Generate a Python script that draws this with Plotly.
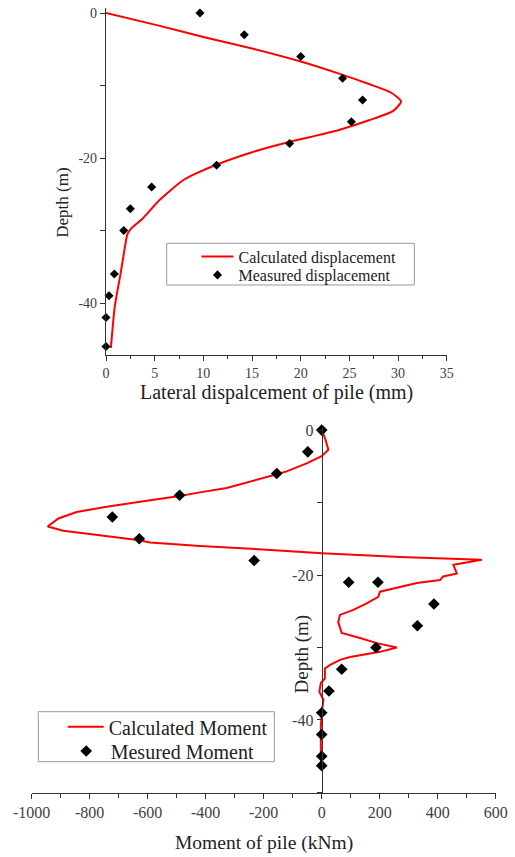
import plotly.graph_objects as go

W, H = 515, 857

def px(x):
    return x / W

def py(y):
    return 1 - y / H

# ---------------- Data: lateral displacement ----------------
disp_calc_x = [0, 5, 10, 15, 20, 24, 27, 29.3, 30.3, 29.5, 27, 24, 21, 18.5, 15, 11.4,
               8, 5.5, 3.8, 2.6, 2.2, 1.95, 1.5, 0.9, 0.5]
disp_calc_depth = [0, -1.6, -3.3, -4.9, -6.7, -8.4, -9.8, -11, -12.2, -13.5, -14.8, -16.1,
                   -17.1, -17.9, -19.2, -20.9, -23, -25.8, -28.3, -29.7, -30.5, -32.2,
                   -35.9, -40.5, -46.2]
disp_meas_x = [9.65, 14.2, 20.0, 24.3, 26.35, 25.2, 18.85, 11.36, 4.69, 2.5, 1.82, 0.86,
               0.31, 0.0, 0.0]
disp_meas_depth = [0, -3, -6, -9, -12, -15, -18, -21, -24, -27, -30, -36, -39, -42, -46]

# ---------------- Data: bending moment ----------------
mom_calc_x = [0, 11.5, 23, 0, -52, -121, -155, -236, -328, -420, -490, -603, -730, -845,
              -908, -945, -891, -765, -629, -592, -420, -190, 0, 270, 552, 454, 466, 419,
              408, 328, 270, 201, 195, 155, 109, 63, 57, 69, 132, 190, 259, 201, 98, 63,
              29, 11, 11, -3, -8, 6, 0, -3, -3, -2]
mom_calc_depth = [0, -1.15, -2.7, -3.6, -4.6, -5.7, -6.1, -7.0, -8.0, -8.6, -9.1, -9.75,
                  -10.5, -11.3, -12.2, -13.3, -13.9, -14.5, -15.2, -15.5, -16.0, -16.5,
                  -17.0, -17.5, -17.9, -18.6, -19.8, -20.2, -20.7, -21.1, -21.6, -22.3,
                  -23.0, -23.9, -24.8, -25.5, -26.5, -28.0, -28.7, -29.4, -30.0, -30.6,
                  -31.3, -31.7, -32.4, -32.9, -34.3, -34.9, -36.1, -37.2, -39.1, -40.9,
                  -43.7, -46.4]
mom_meas_x = [0, -48, -155, -490, -722, -629, -233, 93, 194, 387, 330, 187, 69, 25, 0, 0, 0, 0]
mom_meas_depth = [0, -3, -6, -9, -12, -15, -18, -21, -21, -24, -27, -30, -33, -36, -39, -42,
                  -45, -46.3]

disp_xticks = [0, 5, 10, 15, 20, 25, 30, 35]
depth_ticks = [0, -20, -40]
depth_ticklabels = ["0", "-20", "-40"]
mom_xticks = [-1000, -800, -600, -400, -200, 0, 200, 400, 600]
mom_xticklabels = ["-1000", "-800", "-600", "-400", "-200", "0", "200", "400", "600"]

SERIF = "Liberation Serif, Times New Roman, serif"
TEXTC = "#222222"
TICKC = "#404040"
LINEC = "#333333"

fig = go.Figure()

fig.add_trace(go.Scatter(
    x=disp_calc_x, y=disp_calc_depth, mode="lines", name="Calculated displacement",
    line=dict(color="#ff0000", width=2, shape="spline", smoothing=0.6),
    xaxis="x", yaxis="y", legend="legend", showlegend=True))
fig.add_trace(go.Scatter(
    x=disp_meas_x, y=disp_meas_depth, mode="markers", name="Measured displacement",
    marker=dict(symbol="diamond", size=7, color="black"), cliponaxis=False,
    xaxis="x", yaxis="y", legend="legend2", showlegend=True))

fig.add_trace(go.Scatter(
    x=mom_calc_x, y=mom_calc_depth, mode="lines", name="Calculated Moment",
    line=dict(color="#ff0000", width=2),
    xaxis="x2", yaxis="y2", legend="legend3", showlegend=True))
fig.add_trace(go.Scatter(
    x=mom_meas_x, y=mom_meas_depth, mode="markers", name="Mesured Moment",
    marker=dict(symbol="diamond", size=9, color="black"), cliponaxis=False,
    xaxis="x2", yaxis="y2", legend="legend4", showlegend=True))

axis_common = dict(showgrid=False, zeroline=False, showline=True, linecolor=LINEC,
                   linewidth=1.2, ticks="outside", ticklen=5, tickcolor=LINEC,
                   tickwidth=1.2, automargin=False)


def leg(x, y, size, itemwidth):
    return dict(x=px(x), y=py(y), xanchor="left", yanchor="middle",
                bgcolor="rgba(0,0,0,0)", borderwidth=0, itemwidth=itemwidth,
                font=dict(family=SERIF, size=size, color=TEXTC))


fig.update_layout(
    template="none",
    width=W, height=H,
    showlegend=True,
    margin=dict(l=0, r=0, t=0, b=0, pad=0),
    paper_bgcolor="white", plot_bgcolor="white",
    font=dict(family=SERIF, color=TEXTC),
    xaxis=dict(domain=[px(106), px(446.8)], range=[0, 35], anchor="y",
               tickvals=disp_xticks,
               tickfont=dict(family=SERIF, size=14, color=TICKC),
               minor=dict(dtick=2.5, ticks="outside", ticklen=3, tickcolor=LINEC),
               **axis_common),
    yaxis=dict(domain=[py(355), py(8)], range=[-47.17, 0.69], anchor="x",
               tickvals=depth_ticks, ticktext=depth_ticklabels,
               tickfont=dict(family=SERIF, size=14, color=TICKC),
               minor=dict(dtick=10, ticks="outside", ticklen=5, tickcolor=LINEC),
               **axis_common),
    xaxis2=dict(domain=[px(31.7), px(495.7)], range=[-1000, 600], anchor="y2",
                tickvals=mom_xticks, ticktext=mom_xticklabels,
                tickfont=dict(family=SERIF, size=16, color=TICKC),
                minor=dict(dtick=100, ticks="outside", ticklen=4, tickcolor=LINEC),
                **axis_common),
    yaxis2=dict(domain=[py(792.7), py(428)], range=[-50.03, 0.28], anchor="free",
                position=px(321.7), tickvals=depth_ticks, ticktext=depth_ticklabels,
                tickfont=dict(family=SERIF, size=16, color=TICKC),
                minor=dict(dtick=10, ticks="outside", ticklen=5, tickcolor=LINEC),
                **axis_common),
    legend=leg(196.5, 256.7, 16, 32),
    legend2=leg(196.5, 275, 16, 32),
    legend3=leg(62.7, 726.7, 20, 36),
    legend4=leg(61.7, 751, 20, 39),
    shapes=[
        dict(type="rect", xref="paper", yref="paper", x0=px(166.7), x1=px(414.3),
             y0=py(285), y1=py(243.3), line=dict(color="#999999", width=1)),
        dict(type="rect", xref="paper", yref="paper", x0=px(38.3), x1=px(274.3),
             y0=py(761.7), y1=py(711.7), line=dict(color="#999999", width=1)),
    ],
    annotations=[
        dict(text="Lateral dispalcement of pile (mm)", xref="paper", yref="paper",
             x=px(276), y=py(392), xanchor="center", yanchor="middle", showarrow=False,
             font=dict(family=SERIF, size=20, color=TEXTC)),
        dict(text="Depth (m)", xref="paper", yref="paper", textangle=-90,
             x=px(62.7), y=py(203), xanchor="center", yanchor="middle", showarrow=False,
             font=dict(family=SERIF, size=17, color=TEXTC)),
        dict(text="Moment of pile (kNm)", xref="paper", yref="paper",
             x=px(264), y=py(843), xanchor="center", yanchor="middle", showarrow=False,
             font=dict(family=SERIF, size=19.5, color=TEXTC)),
        dict(text="Depth (m)", xref="paper", yref="paper", textangle=-90,
             x=px(301.5), y=py(654), xanchor="center", yanchor="middle", showarrow=False,
             font=dict(family=SERIF, size=19, color=TEXTC)),
    ],
)

fig.write_html("out.html", config={"displayModeBar": False},
               post_script="document.body.style.margin='0';document.body.style.overflow='hidden';")
